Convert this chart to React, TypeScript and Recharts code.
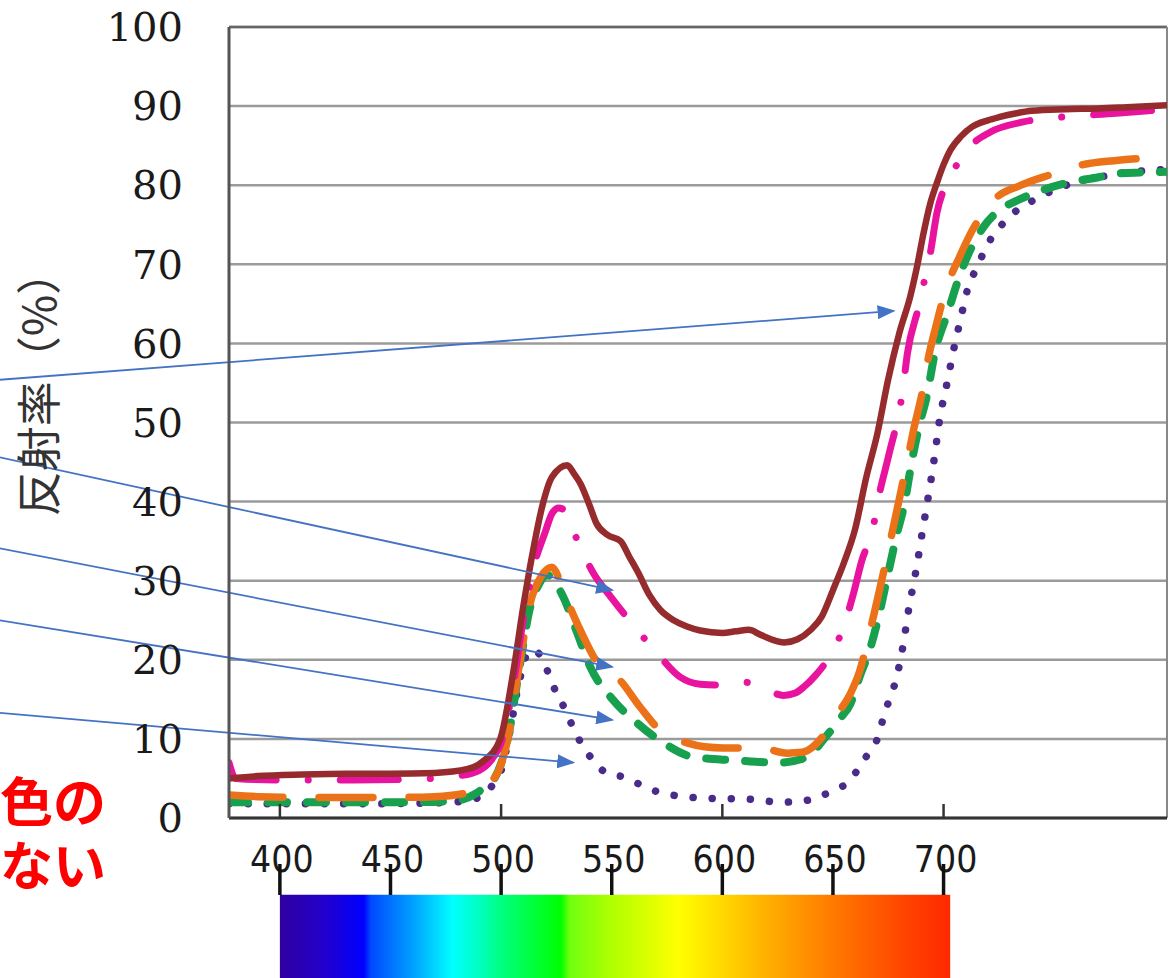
import React from "react";
import { LineChart, Line, XAxis, YAxis, CartesianGrid, ReferenceLine, ReferenceArea } from "recharts";

// wavelength (nm) / reflectance (%), one pair of arrays per curve
const brownNm = [377, 390, 410, 430, 450, 470, 485, 492, 499.5, 505.4, 510, 514.5, 518.5, 523, 529.9, 533, 536, 540, 543, 548, 554, 558, 562, 567, 572, 578, 584, 590, 600, 606, 612, 617, 622, 628, 634, 640, 645, 650, 655, 660, 665, 670, 675, 680, 685, 688, 691, 694, 697, 700, 703, 708, 713, 720, 725, 733, 740, 755, 770, 785, 801];
const brownR = [5.0, 5.3, 5.5, 5.6, 5.6, 5.7, 6.2, 7.2, 9.9, 18.3, 26.7, 33.9, 39.3, 43.1, 44.6, 43.5, 42.2, 39.5, 37.3, 35.8, 35.0, 33.0, 31.0, 28.2, 26.3, 25.0, 24.2, 23.7, 23.4, 23.6, 23.8, 23.2, 22.6, 22.2, 22.6, 23.8, 25.5, 28.8, 32.3, 36.5, 43.0, 48.5, 55.5, 61.3, 66.0, 69.7, 74.0, 77.7, 80.3, 82.6, 84.4, 86.2, 87.4, 88.2, 88.6, 89.1, 89.4, 89.6, 89.7, 89.9, 90.1];

const magentaNm = [377, 380, 400, 430, 460, 480, 490, 496, 500, 505, 510, 515, 520, 523, 526, 529, 534, 541.6, 550, 560, 570, 581, 590, 597, 603, 609.5, 618.6, 627.6, 633, 637, 642, 647.5, 654.3, 659.3, 663, 667.9, 671, 675, 681.5, 683.7, 688.7, 691, 694, 697, 702, 707, 712, 721, 736, 753, 778, 801];
const magentaR = [7.0, 5.0, 4.8, 4.8, 4.9, 5.3, 6.0, 7.5, 9.5, 16.0, 25.0, 32.0, 36.2, 38.5, 39.2, 38.8, 35.4, 31.0, 27.8, 24.3, 21.0, 17.8, 16.9, 16.8, 17.0, 17.2, 16.4, 15.5, 15.8, 16.6, 18.0, 20.0, 23.8, 28.4, 32.5, 36.4, 41.0, 45.6, 54.0, 58.8, 64.6, 67.5, 71.4, 76.5, 80.6, 83.0, 84.9, 86.7, 88.0, 88.6, 89.1, 89.6];

const orangeNm = [377, 390, 420, 450, 470, 485, 492, 498, 503, 508.6, 513, 518, 523, 529, 535.7, 543.4, 553.8, 562.9, 573.3, 584, 592, 600.5, 617, 629.4, 636, 641, 647.5, 653, 658, 662, 666, 670, 674, 677, 680.5, 683.5, 686.4, 690.5, 693, 696.4, 701, 707, 713, 718, 722.6, 735, 748, 763, 777, 790, 801];
const orangeR = [2.9, 2.7, 2.6, 2.6, 2.7, 3.2, 4.0, 5.5, 10.0, 20.0, 27.0, 30.5, 31.7, 28.0, 23.8, 19.7, 17.4, 14.0, 10.7, 9.5, 9.0, 8.85, 8.85, 8.2, 8.3, 9.0, 11.1, 13.5, 15.8, 18.5, 22.8, 27.5, 32.5, 36.4, 41.0, 45.0, 49.0, 54.0, 58.0, 62.0, 66.8, 70.8, 74.3, 76.5, 78.1, 80.0, 81.3, 82.6, 83.1, 83.4, 83.5];

const greenNm = [377, 400, 430, 460, 480, 488, 493, 497, 503, 508.6, 513, 517, 520.8, 528, 534.4, 540.3, 550.7, 561.5, 573.3, 587, 605, 626, 638.4, 645.7, 653, 658, 662, 667, 670.6, 675, 679, 682, 686, 689.6, 692, 696.4, 701.8, 707.7, 718, 725, 733.5, 745, 756, 770, 779, 790, 801];
const greenR = [2.0, 2.0, 2.0, 2.0, 2.2, 3.0, 4.0, 5.0, 10.0, 19.5, 26.5, 29.5, 30.7, 28.0, 23.4, 19.1, 14.9, 12.0, 9.5, 7.7, 7.3, 7.0, 7.7, 9.9, 12.5, 14.5, 17.8, 21.6, 25.4, 31.0, 36.0, 39.3, 45.6, 50.3, 52.8, 59.2, 63.8, 68.9, 74.7, 76.8, 78.1, 79.4, 80.3, 81.0, 81.5, 81.6, 81.7];

const purpleNm = [377, 400, 440, 470, 485, 492, 497, 500, 504, 508, 513, 516, 519, 522, 525, 529, 532.6, 536.7, 541.6, 547, 555, 561.5, 568.8, 577.4, 593, 611, 627, 635, 644, 650, 658, 662.4, 667, 671, 673, 676, 678.7, 680.5, 682, 683.3, 684.6, 686, 688, 690, 692, 694, 696, 698, 700, 702, 704, 706, 709, 710.8, 714.5, 718, 722, 727, 733.5, 740, 750, 760, 770, 780, 790, 801];
const purpleR = [1.8, 1.8, 1.8, 1.9, 2.2, 3.0, 4.5, 6.0, 11.0, 17.0, 21.2, 21.0, 20.0, 17.8, 15.8, 13.7, 11.4, 9.2, 7.3, 5.8, 5.2, 4.4, 3.5, 2.9, 2.5, 2.4, 2.0, 2.1, 2.7, 3.5, 4.8, 6.7, 8.6, 10.7, 13.0, 15.3, 17.7, 20.0, 22.3, 24.7, 27.0, 29.0, 32.0, 35.5, 38.8, 42.2, 45.8, 50.0, 53.0, 55.5, 58.5, 61.0, 64.7, 66.8, 69.3, 71.4, 73.5, 75.2, 76.9, 78.0, 79.4, 80.4, 81.0, 81.5, 81.8, 82.0];

const yTicks = [0, 10, 20, 30, 40, 50, 60, 70, 80, 90, 100];
const xTicks = [400, 450, 500, 550, 600, 650, 700];

// annotation arrows, in (nm, %) so they go through the chart's scales
const arrows = [
  [273.3, 55.4, 677.4, 64.1],
  [273.3, 45.6, 550.2, 28.8],
  [273.3, 34.1, 550.2, 19.1],
  [273.3, 25.0, 550.2, 12.4],
  [273.3, 13.3, 532.6, 7.0],
];

const pts = (nm: number[], r: number[]) => nm.map((x, i) => ({ nm: x, r: r[i] }));

const spectrumStops: [number, string][] = [
  [400, "#3000a0"], [420, "#2200cc"], [438, "#0000ff"], [441, "#0048ff"], [460, "#00a0ff"],
  [478, "#00ffff"], [490, "#00ffc0"], [500, "#00ff80"], [527, "#00ff00"], [531, "#70ff10"],
  [550, "#b0ff00"], [580, "#ffff00"], [600, "#ffd800"], [620, "#ffb000"], [650, "#ff7a00"],
  [680, "#ff4800"], [703, "#ff2800"],
];

const SpecTick = (props: any) => {
  const { x, y, payload } = props;
  const v = payload.value;
  return (
    <g>
      {v % 100 === 0 && <line x1={x} x2={x} y1={y - 14} y2={y} stroke="#333" strokeWidth={2.5} />}
      <text
        x={x + 2}
        y={y + 54}
        textAnchor="middle"
        fontFamily="'Liberation Sans Narrow', 'DejaVu Sans Condensed', sans-serif"
        fontSize={37}
        fill="#1a1a1a"
      >
        {v}
      </text>
      <line x1={x} x2={x} y1={y + 46} y2={y + 77} stroke="#111" strokeWidth={3.5} />
    </g>
  );
};

export default function App() {
  return (
    <div style={{ position: "absolute", left: 0, top: 0, width: 1170, height: 978, background: "#fff" }}>
      <LineChart width={1170} height={978} margin={{ top: 27, right: 3, bottom: 0, left: 0 }}>
        <defs>
          <linearGradient id="spectrum" x1="0" y1="0" x2="1" y2="0">
            {spectrumStops.map(([nm, c]) => (
              <stop key={nm} offset={(nm - 400) / 303} stopColor={c} />
            ))}
          </linearGradient>
          <marker id="arrowHead" markerWidth="18" markerHeight="14" refX="16" refY="7" orient="auto" markerUnits="userSpaceOnUse">
            <path d="M0,0 L18,7 L0,14 z" fill="#4472c4" />
          </marker>
        </defs>
        <CartesianGrid horizontal vertical={false} stroke="#9b9b9b" strokeWidth={2.5} />
        <XAxis
          dataKey="nm"
          type="number"
          domain={[377, 801]}
          ticks={xTicks}
          allowDataOverflow
          height={160}
          tickSize={0}
          tickMargin={0}
          tickLine={false}
          axisLine={{ stroke: "#333", strokeWidth: 3 }}
          tick={<SpecTick />}
          interval={0}
        />
        <YAxis
          type="number"
          domain={[0, 100]}
          ticks={yTicks}
          width={229}
          tickLine={false}
          tickSize={0}
          tickMargin={46}
          axisLine={{ stroke: "#555", strokeWidth: 3 }}
          tick={{ fontFamily: "'DejaVu Serif', serif", fontSize: 40, fill: "#1a1a1a" }}
          interval={0}
        />
        <ReferenceLine y={100} stroke="#666" strokeWidth={2.5} />
        <ReferenceLine x={801} stroke="#888" strokeWidth={2} />
        <ReferenceArea x1={400} x2={703} y1={-20.5} y2={-9.7} fill="url(#spectrum)" fillOpacity={1} stroke="none" ifOverflow="visible" />

        <Line data={pts(purpleNm, purpleR)} dataKey="r" type="monotone" stroke="#4a2b8a" strokeWidth={7.5}
          strokeDasharray="0.1 19" strokeLinecap="round" dot={false} activeDot={false} isAnimationActive={false} />
        <Line data={pts(greenNm, greenR)} dataKey="r" type="monotone" stroke="#17a04e" strokeWidth={8}
          strokeDasharray="19 20" strokeLinecap="round" dot={false} activeDot={false} isAnimationActive={false} />
        <Line data={pts(orangeNm, orangeR)} dataKey="r" type="monotone" stroke="#ec7219" strokeWidth={7.5}
          strokeDasharray="54 36" strokeLinecap="round" dot={false} activeDot={false} isAnimationActive={false} />
        <Line data={pts(magentaNm, magentaR)} dataKey="r" type="monotone" stroke="#e8149f" strokeWidth={7}
          strokeDasharray="58 32 0.1 32" strokeLinecap="round" dot={false} activeDot={false} isAnimationActive={false} />
        <Line data={pts(brownNm, brownR)} dataKey="r" type="monotone" stroke="#962b2e" strokeWidth={6.5}
          dot={false} activeDot={false} isAnimationActive={false} />

        {arrows.map(([x1, y1, x2, y2], i) => (
          <ReferenceLine
            key={i}
            segment={[{ x: x1, y: y1 }, { x: x2, y: y2 }]}
            stroke="#4472c4"
            strokeWidth={1.8}
            markerEnd="url(#arrowHead)"
            ifOverflow="visible"
          />
        ))}
      </LineChart>
      <svg width={1170} height={978} style={{ position: "absolute", left: 0, top: 0, pointerEvents: "none" }}>
        <text
          transform="translate(56 383) rotate(-90)"
          textAnchor="middle"
          fontFamily="'Noto Sans CJK JP', sans-serif"
          fontSize={45}
          fill="#333"
        >
          反射率（%）
        </text>
        <text x={106} y={822} textAnchor="end" fontFamily="'Noto Sans CJK JP', sans-serif" fontWeight={700} fontSize={53} fill="#ff0000">
          色の
        </text>
        <text x={106} y={886} textAnchor="end" fontFamily="'Noto Sans CJK JP', sans-serif" fontWeight={700} fontSize={53} fill="#ff0000">
          ない
        </text>
      </svg>
    </div>
  );
}
